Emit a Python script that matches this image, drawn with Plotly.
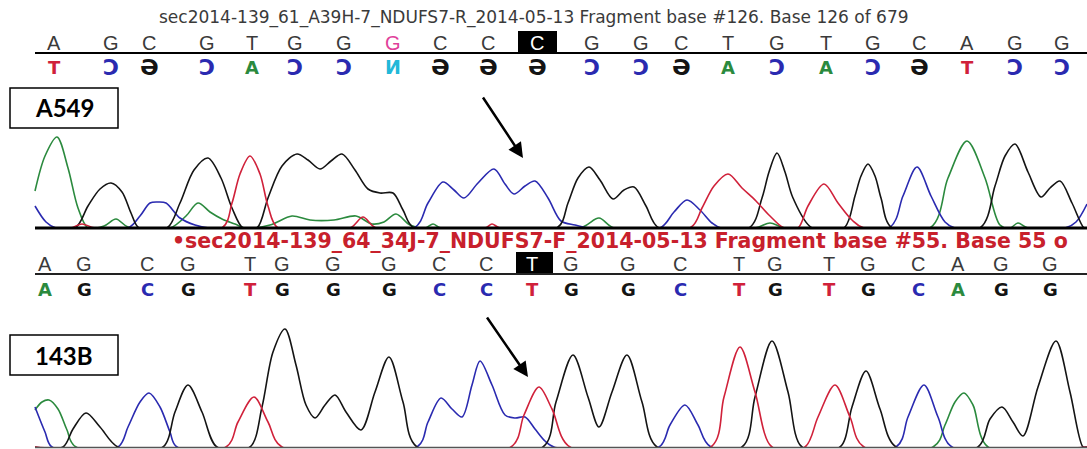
import plotly.graph_objects as go

W, H = 1087, 449

# ------------------------------------------------------------------ data
TOP_TITLE = "sec2014-139_61_A39H-7_NDUFS7-R_2014-05-13 Fragment base #126. Base 126 of 679"
BOT_TITLE = "\u2022sec2014-139_64_34J-7_NDUFS7-F_2014-05-13 Fragment base #55. Base 55 o"

TOP_LABEL = "A549"
BOT_LABEL = "143B"

# called bases (upper sample, reverse read)
top_bases = list("AGCGTGGGCCCGGCTGTGCAGG")
top_pos = [54, 111, 149, 207, 252, 295, 344, 393, 440, 488, 537, 592, 641, 681,
           728, 777, 826, 873, 919, 967, 1015, 1062]
top_comp = list("TCGCACCNGGGCCGACACGTCC")   # mirrored complement row
top_sel = 10                                    # highlighted base index
top_odd = 7                                     # base shown in pink

# called bases (lower sample, forward read)
bot_bases = list("AGCGTGGGCCTGGCTGTGCAGG")
bot_pos = [45, 84, 147, 188, 250, 282, 333, 389, 439, 486, 532, 571, 628, 680,
           739, 775, 829, 868, 918, 958, 1001, 1050]
bot_sel = 10

# trace vertices: position (scan) and signal intensity
top_A_x = [35, 45, 57, 68, 78, 88, 104, 116, 128, 170, 186, 198, 210, 222, 235, 245, 270, 292,
           310, 334, 356, 372, 384, 396, 410, 425, 433, 441, 580, 599, 614, 755, 770, 785, 930,
           948, 967, 985, 1000, 1010, 1018, 1028, 1087]
top_A_y = [37, 72, 91, 60, 20, 0, 2, 9, 1, 0, 12, 25, 16, 9, 4, 0, 3, 12,
           8, 8, 12, 4, 6, 14, 3, 0, 4, 0, 0, 10, 0, 0, 5, 0, 0,
           50, 87, 50, 3, 0, 5, 0, 0]

top_C_x = [35, 46, 56, 128, 140, 150, 158, 166, 180, 195, 209, 414, 428, 443, 454, 464, 478,
           494, 505, 514, 525, 535, 548, 561, 575, 589, 660, 674, 687, 700, 712, 721, 889, 903,
           917, 931, 945, 955, 1065, 1076, 1087]
top_C_y = [22, 6, 0, 0, 12, 25, 26, 25, 10, 3, 0, 0, 25, 46, 38, 30, 45,
           59, 44, 34, 42, 47, 30, 7, 3, 0, 0, 16, 28, 18, 5, 0, 0, 32,
           61, 32, 6, 0, 0, 6, 24]

top_G_x = [35, 75, 88, 100, 111, 122, 131, 139, 167, 180, 194, 208, 221, 232, 243, 257, 268,
           282, 297, 308, 320, 331, 342, 355, 368, 380, 393, 403, 414, 557, 568, 578, 589, 600,
           613, 624, 634, 646, 659, 749, 762, 769, 777, 785, 793, 812, 844, 855, 861, 868, 875,
           881, 892, 980, 995, 1005, 1015, 1028, 1041, 1050, 1060, 1072, 1084, 1087]
top_G_y = [0, 0, 22, 39, 45, 36, 15, 0, 0, 25, 58, 70, 50, 20, 0, 0, 30,
           62, 74, 68, 59, 67, 74, 58, 39, 35, 35, 18, 0, 0, 25, 50, 61, 48,
           29, 38, 41, 22, 0, 0, 30, 56, 75, 56, 30, 0, 0, 32, 52, 64, 52,
           30, 0, 0, 42, 72, 84, 56, 31, 40, 47, 25, 0, 0]

top_T_x = [35, 70, 82, 95, 222, 232, 240, 250, 260, 268, 278, 350, 363, 376, 485, 492, 500,
           690, 702, 714, 728, 742, 756, 770, 784, 798, 808, 824, 838, 852, 864, 1087]
top_T_y = [0, 0, 4, 0, 0, 25, 54, 72, 54, 22, 0, 0, 11, 0, 0, 4, 0,
           0, 20, 42, 54, 40, 27, 12, 0, 0, 22, 44, 25, 8, 0, 0]

bot_A_x = [35, 42, 49, 58, 67, 76, 933, 945, 955, 964, 973, 988, 1087]
bot_A_y = [37, 45, 47, 38, 17, 0, 0, 22, 45, 54, 42, 0, 0]

bot_C_x = [35, 45, 52, 118, 128, 140, 149, 160, 170, 177, 417, 428, 441, 452, 462, 472, 480,
           492, 505, 515, 525, 535, 545, 554, 659, 670, 685, 698, 711, 896, 908, 924, 938, 952, 1087]
bot_C_y = [40, 15, 0, 0, 20, 45, 54, 40, 15, 0, 0, 25, 49, 38, 30, 62, 86,
           62, 32, 29, 30, 18, 6, 0, 0, 22, 42, 22, 0, 0, 30, 62, 30, 0, 0]

bot_G_x = [35, 63, 73, 86, 100, 118, 163, 175, 188, 202, 217, 250, 262, 273, 285, 296, 306,
           315, 325, 335, 346, 361, 375, 389, 403, 417, 543, 556, 573, 588, 599, 612, 627, 642,
           657, 742, 755, 772, 788, 802, 840, 852, 866, 880, 896, 978, 990, 1002, 1013, 1023,
           1038, 1056, 1070, 1083, 1087]
bot_G_y = [0, 0, 18, 34, 20, 0, 0, 35, 62, 35, 0, 0, 40, 95, 118, 82, 42,
           29, 42, 52, 35, 17, 55, 90, 45, 0, 0, 45, 92, 50, 20, 55, 92, 45,
           0, 0, 50, 106, 55, 0, 0, 40, 76, 38, 0, 0, 28, 40, 25, 11,
           60, 106, 55, 0, 0]

bot_T_x = [35, 226, 238, 254, 268, 282, 511, 524, 539, 552, 570, 711, 724, 740, 755, 772,
           805, 818, 835, 850, 864, 1087]
bot_T_y = [0, 0, 25, 50, 25, 0, 0, 32, 60, 38, 0, 0, 50, 100, 55, 0,
           0, 30, 62, 30, 0, 0]

# ------------------------------------------------------------------ style
COL = {"A": "#2b8a3e", "C": "#2a2ab0", "G": "#141414", "T": "#d0213a", "N": "#22b8d8"}
MIRROR = {"A": "A", "C": "\u0186", "G": "\u018F", "T": "T", "N": "\u0418"}
MIRROR_SIZE = {"A": 18, "C": 22, "G": 22, "T": 18, "N": 19}


def py(p):
    return 1 - p / H


fig = go.Figure()

panels = [
    ("y", [("A", top_A_x, top_A_y), ("C", top_C_x, top_C_y),
           ("G", top_G_x, top_G_y), ("T", top_T_x, top_T_y)]),
    ("y2", [("A", bot_A_x, bot_A_y), ("C", bot_C_x, bot_C_y),
            ("G", bot_G_x, bot_G_y), ("T", bot_T_x, bot_T_y)]),
]
for yref, chans in panels:
    for base, xs, ys in chans:
        fig.add_trace(go.Scatter(
            x=xs, y=ys, yaxis=yref, mode="lines",
            line=dict(color=COL[base], width=1.6, shape="spline", smoothing=0.9),
            hoverinfo="skip", showlegend=False, cliponaxis=False))

ann = []
shapes = []


def txt(x, y, text, xanchor="center", **font):
    ann.append(dict(x=x, y=py(y), xref="x", yref="paper", text=text, showarrow=False,
                    xanchor=xanchor, yanchor="middle", font=font))


# headers
txt(534, 18, TOP_TITLE, family="DejaVu Sans", size=17, color="#3a3a3a")
txt(170, 241, BOT_TITLE, xanchor="left", family="DejaVu Sans", size=20.5, color="#c8202c",
    weight="bold")

# top base rows
shapes.append(dict(type="rect", xref="x", yref="paper", x0=518, x1=557, y0=py(53), y1=py(31),
                   fillcolor="#000", line=dict(width=0), layer="below"))
for i, (b, xp) in enumerate(zip(top_bases, top_pos)):
    c = "#ffffff" if i == top_sel else ("#e0409a" if i == top_odd else "#3a3a3a")
    txt(xp, 43, b, family="Liberation Sans", size=20, color=c)
for b, xp in zip(top_comp, top_pos):
    txt(xp, 67, MIRROR[b], family="DejaVu Sans", size=MIRROR_SIZE[b], color=COL[b],
        weight="bold")
shapes.append(dict(type="line", xref="x", yref="paper", x0=35, x1=1087, y0=py(53), y1=py(53),
                   line=dict(color="#000", width=2)))

# bottom base rows
shapes.append(dict(type="rect", xref="x", yref="paper", x0=516, x1=553, y0=py(274), y1=py(252),
                   fillcolor="#000", line=dict(width=0), layer="below"))
for i, (b, xp) in enumerate(zip(bot_bases, bot_pos)):
    c = "#ffffff" if i == bot_sel else "#3a3a3a"
    txt(xp, 264, b, family="Liberation Sans", size=20, color=c)
    txt(xp, 289, b, family="DejaVu Sans", size=18, color=COL[b], weight="bold")
shapes.append(dict(type="line", xref="x", yref="paper", x0=35, x1=1087, y0=py(274), y1=py(274),
                   line=dict(color="#222", width=2)))

# baselines
shapes.append(dict(type="line", xref="x", yref="paper", x0=35, x1=1087, y0=py(228), y1=py(228),
                   line=dict(color="#000", width=3)))
shapes.append(dict(type="line", xref="x", yref="paper", x0=35, x1=1087, y0=py(447.5),
                   y1=py(447.5), line=dict(color="#555", width=1.5)))

# sample label boxes
for lab, y0, y1 in [(TOP_LABEL, 88, 128), (BOT_LABEL, 335, 375)]:
    shapes.append(dict(type="rect", xref="x", yref="paper", x0=10, x1=118, y0=py(y1), y1=py(y0),
                       fillcolor="#fff", line=dict(color="#000", width=1.5)))
    txt(64, (y0 + y1) / 2, lab, family="Lato", size=24, color="#000", weight="bold")

# arrows
for tx, ty, sx, sy in [(523, 158, 482, 96), (528, 377, 486, 316)]:
    ann.append(dict(x=tx, y=py(ty), xref="x", yref="paper", text="", showarrow=True,
                    ax=sx - tx, ay=sy - ty, arrowhead=2, arrowsize=1.2, arrowwidth=2.5,
                    arrowcolor="#000"))

fig.update_layout(
    width=W, height=H, margin=dict(l=0, r=0, t=0, b=0),
    paper_bgcolor="#fff", plot_bgcolor="#fff",
    xaxis=dict(range=[0, W], visible=False, domain=[0, 1], fixedrange=True),
    yaxis=dict(range=[0, 100], visible=False, domain=[py(228), py(128)], fixedrange=True),
    yaxis2=dict(range=[0, 130], visible=False, domain=[py(447), py(317)], fixedrange=True),
    annotations=ann, shapes=shapes, showlegend=False,
)

fig.write_html("out.html", config={"displayModeBar": False},
               post_script="document.body.style.margin='0px';")
